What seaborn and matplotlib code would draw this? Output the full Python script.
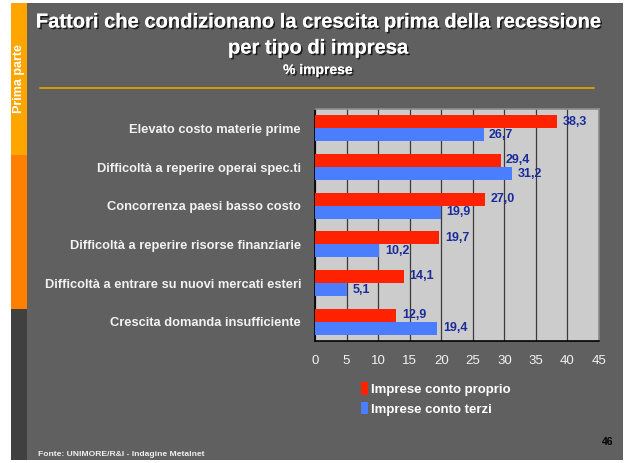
import matplotlib
matplotlib.use("Agg")
import matplotlib.pyplot as plt
import matplotlib.patheffects as pe
from matplotlib.patches import Rectangle
from matplotlib.lines import Line2D
import seaborn as sns
import pandas as pd

# ---------------- data ----------------
categories = [
    "Elevato costo materie prime",
    "Difficoltà a reperire operai spec.ti",
    "Concorrenza paesi basso costo",
    "Difficoltà a reperire risorse finanziarie",
    "Difficoltà a entrare su nuovi mercati esteri",
    "Crescita domanda insufficiente",
]
series_names = ["Imprese conto proprio", "Imprese conto terzi"]
conto_proprio = [38.3, 29.4, 27.0, 19.7, 14.1, 12.9]
conto_terzi = [26.7, 31.2, 19.9, 10.2, 5.1, 19.4]
x_ticks = [0, 5, 10, 15, 20, 25, 30, 35, 40, 45]

title_line1 = "Fattori che condizionano la crescita prima della recessione"
title_line2 = "per tipo di impresa"
subtitle_text = "% imprese"
source_text = "Fonte: UNIMORE/R&I - Indagine Metalnet"
page_text = "46"
side_text = "Prima parte"

df = pd.DataFrame({
    "fattore": categories * 2,
    "valore": conto_proprio + conto_terzi,
    "serie": [series_names[0]] * len(categories) + [series_names[1]] * len(categories),
})

# ---------------- style ----------------
RED = "#FF2200"
BLUE = "#4A7EFF"
LABEL_BLUE = "#1B2C9A"
BG = "#5F605F"
PLOT_BG = "#CCCCCC"
TXT = "#F2F2F2"

sns.set_theme(style="white")
plt.rcParams["font.family"] = ["Liberation Sans", "DejaVu Sans"]

W, H = 627, 463
fig = plt.figure(figsize=(W / 100, H / 100), dpi=100, facecolor="white")


def rect_px(x0, y0, x1, y1, color):
    fig.patches.append(Rectangle((x0 / W, 1 - y1 / H), (x1 - x0) / W, (y1 - y0) / H,
                                 transform=fig.transFigure, facecolor=color,
                                 edgecolor="none", zorder=-10))


# page background
rect_px(27, 3, 623, 460, BG)
rect_px(11, 3, 27, 155, "#FFA500")
rect_px(11, 155, 27, 309, "#FF7F00")
rect_px(11, 309, 27, 460, "#404040")

fig.text(19 / W, 1 - 79 / H, side_text, rotation=90, ha="center", va="center",
         color="white", fontsize=9, fontweight="bold")

# title
shadow = [pe.withSimplePatchShadow(offset=(1.2, -1.2), shadow_rgbFace="black", alpha=0.7), pe.Normal()]
fig.text(318 / W, 1 - 22 / H, title_line1, ha="center", va="center", color="white",
         fontsize=14.5, fontweight="bold", path_effects=shadow)
fig.text(318 / W, 1 - 48 / H, title_line2, ha="center", va="center", color="white",
         fontsize=14.5, fontweight="bold", path_effects=shadow)
fig.text(318 / W, 1 - 70 / H, subtitle_text, ha="center", va="center", color="white",
         fontsize=10, fontweight="bold", path_effects=shadow)
fig.lines.append(Line2D([40 / W, 594 / W], [1 - 88 / H, 1 - 88 / H], transform=fig.transFigure,
                        color="#E0A000", linewidth=1.3))

fig.text(38 / W, 1 - 455 / H, source_text, ha="left", va="center", color="#EEEEEE",
         fontsize=6.1, fontweight="bold")
fig.text(608 / W, 1 - 442 / H, page_text, ha="center", va="center", color="black",
         fontsize=7.5, fontweight="bold")

# ---------------- chart ----------------
ax = fig.add_axes([315 / W, 1 - 341 / H, (599 - 315) / W, (341 - 109) / H])
ax.set_zorder(5)
sns.barplot(data=df, x="valore", y="fattore", hue="serie", orient="h",
            palette=[RED, BLUE], width=0.68, saturation=1, linewidth=0, ax=ax, zorder=3)
ax.set_facecolor(PLOT_BG)
ax.set_xlim(x_ticks[0], x_ticks[-1])
ax.set_xticks(x_ticks)
ax.set_xticklabels([str(t) for t in x_ticks], color=TXT, fontsize=9.5)
ax.set_xlabel("")
ax.set_ylabel("")
ax.tick_params(axis="x", direction="inout", length=6, width=1, color="black", pad=7)
ax.tick_params(axis="y", which="major", length=0, pad=10)
ax.set_yticks(range(len(categories)), minor=False)
ax.set_yticklabels(categories)
ax.set_yticks([i - 0.5 for i in range(len(categories) + 1)], minor=True)
ax.tick_params(axis="y", which="minor", direction="out", length=4, width=1, color="black")
for lab in ax.get_yticklabels():
    lab.set_color(TXT)
    lab.set_fontsize(9.3)
    lab.set_fontweight("bold")
ax.grid(axis="x", color="#3A3A3A", linewidth=0.9, zorder=1)
ax.set_axisbelow(True)
for side in ["left", "bottom"]:
    ax.spines[side].set_color("black")
    ax.spines[side].set_linewidth(1.2)
for side in ["top", "right"]:
    ax.spines[side].set_color("#8C8C8C")
    ax.spines[side].set_linewidth(1.2)

for cont in ax.containers:
    ax.bar_label(cont, labels=[f"{b.get_width():.1f}".replace(".", ",") for b in cont],
                 padding=4, color=LABEL_BLUE, fontsize=9, fontweight="bold")

handles, labels = ax.get_legend_handles_labels()
if ax.get_legend() is not None:
    ax.get_legend().remove()
leg = ax.legend(handles, labels, loc="upper left", bbox_to_anchor=(361 / W, 1 - 382 / H),
                bbox_transform=fig.transFigure, frameon=False, handlelength=0.55, handleheight=1.1,
                handletextpad=0.2, labelspacing=0.45, borderaxespad=0, borderpad=0,
                labelcolor="white", prop={"weight": "bold", "size": 9.5})
for h in leg.legend_handles:
    h.set_linewidth(0)

fig.savefig("out.png", dpi=100, facecolor="white")
